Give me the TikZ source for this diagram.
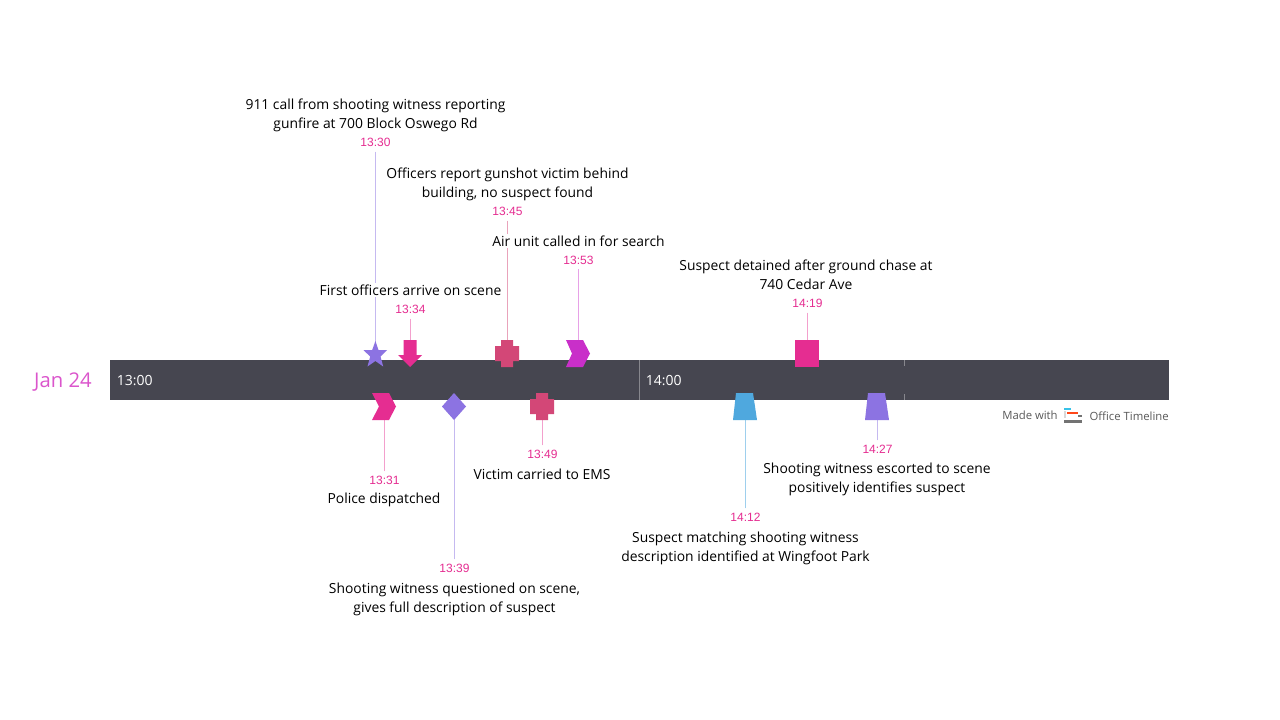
\documentclass[tikz,border=0pt]{standalone}
\usepackage{fontspec}
\setmainfont{Open Sans}
\newfontfamily\timefont{Liberation Sans}
\usetikzlibrary{backgrounds}
\definecolor{barc}{HTML}{464650}
\definecolor{pinkc}{HTML}{E52D91}
\definecolor{purpc}{HTML}{8C73E2}
\definecolor{magc}{HTML}{C92FC9}
\definecolor{rosec}{HTML}{D34777}
\definecolor{bluec}{HTML}{4FA8DE}
\definecolor{datec}{HTML}{DB55CC}
\tikzset{x=0.75pt,y=-0.75pt,
 lbl/.style={inner sep=1pt,fill=white,align=center,font=\fontsize{10.4pt}{14.25pt}\selectfont,text=black},
 tm/.style={inner sep=0pt,font=\timefont\fontsize{9pt}{10pt}\selectfont,text=pinkc},
 conn/.style={line width=0.75pt,shorten <=3.5pt},
 axis/.style={inner sep=0pt,anchor=west,text=white,font=\fontsize{10.5pt}{12pt}\selectfont},
 made/.style={inner sep=0pt,text=black!65,font=\fontsize{8.5pt}{10pt}\selectfont}}
\begin{document}
\begin{tikzpicture}
\useasboundingbox (0,0) rectangle (1280,720);
\begin{pgfonlayer}{background}
\fill[white] (0,0) rectangle (1280,720);
\end{pgfonlayer}
\fill[barc] (110,360) rectangle (1169,400);
\draw[white!35!barc,line width=0.75pt] (639.5,360) -- (639.5,400);
\draw[white!35!barc,line width=0.75pt] (904.5,360) -- (904.5,366);
\draw[white!35!barc,line width=0.75pt] (904.5,394) -- (904.5,400);
% markers
\coordinate (m1) at (375.5,354);
\coordinate (m2) at (410.5,354);
\coordinate (m3) at (507.5,354);
\coordinate (m4) at (578.5,354);
\coordinate (m5) at (807.5,354);
\coordinate (n1) at (384.5,406);
\coordinate (n2) at (454.5,406);
\coordinate (n3) at (542.5,406);
\coordinate (n4) at (745.5,406);
\coordinate (n5) at (877.5,406);
\fill[purpc] (375.4,341) -- (378.5,350) -- (387,350.2) -- (380.5,356.5) -- (383.2,366.5) -- (375.4,361) -- (367.5,366.5) -- (370.2,356.5) -- (363.5,350.2) -- (372.2,350) -- cycle;
\fill[pinkc] (403.5,340) -- (416.5,340) -- (416.5,355) -- (422,355) -- (410,367) -- (398,355) -- (403.5,355) -- cycle;
\fill[rosec] (501,340) -- (513,340) -- (513,346) -- (519,346) -- (519,361) -- (513,361) -- (513,367) -- (501,367) -- (501,361) -- (495,361) -- (495,346) -- (501,346) -- cycle;
\fill[magc] (566,340) -- (583,340) -- (590,353.5) -- (583,367) -- (566,367) -- (572,353.5) -- cycle;
\fill[pinkc] (795,340) rectangle (819,367);
\fill[pinkc] (372,393) -- (389,393) -- (396,406.5) -- (389,420) -- (372,420) -- (379,406.5) -- cycle;
\fill[purpc] (454,393) -- (466,406.5) -- (454,420) -- (442,406.5) -- cycle;
\fill[rosec] (536,393) -- (548,393) -- (548,399) -- (554,399) -- (554,414) -- (548,414) -- (548,420) -- (536,420) -- (536,414) -- (530,414) -- (530,399) -- (536,399) -- cycle;
\fill[bluec] (736,393) -- (753,393) -- (757,420) -- (733,420) -- cycle;
\fill[purpc] (868,393) -- (885,393) -- (889,420) -- (865,420) -- cycle;
% bar labels
\node[axis] (t13) at (116.5,381) {13:00};
\node[axis] (t14) at (645.5,381) {14:00};
\node[inner sep=0pt,text=datec,font=\fontsize{15.2pt}{18pt}\selectfont] (date) at (63,382.5) {Jan 24};
% labels
\node[lbl] (l1) at (375.5,115.5) {911 call from shooting witness reporting\\gunfire at 700 Block Oswego Rd};
\node[tm] (tt1) at (375.5,142.5) {13:30};
\node[lbl] (l2) at (410.5,290) {First officers arrive on scene};
\node[tm] (tt2) at (410.5,309.5) {13:34};
\node[lbl] (l3) at (507.5,184.5) {Officers report gunshot victim behind\\building, no suspect found};
\node[tm] (tt3) at (507.5,211.5) {13:45};
\node[lbl] (l4) at (578.5,241) {Air unit called in for search};
\node[tm] (tt4) at (578.5,260) {13:53};
\node[lbl] (l5) at (806,274.5) {Suspect detained after ground chase at\\740 Cedar Ave};
\node[tm] (tt5) at (807.5,303.5) {14:19};
\node[tm] (tb1) at (384.5,480.5) {13:31};
\node[lbl] (b1) at (384,500) {Police dispatched};
\node[tm] (tb2) at (454.5,568.5) {13:39};
\node[lbl] (b2) at (454.5,599.5) {Shooting witness questioned on scene,\\gives full description of suspect};
\node[tm] (tb3) at (542.5,454.5) {13:49};
\node[lbl] (b3) at (542,474) {Victim carried to EMS};
\node[tm] (tb4) at (745.5,517.5) {14:12};
\node[lbl] (b4) at (745.5,548.5) {Suspect matching shooting witness\\description identified at Wingfoot Park};
\node[tm] (tb5) at (877.5,449.5) {14:27};
\node[lbl] (b5) at (877,479) {Shooting witness escorted to scene\\positively identifies suspect};
% connectors
\begin{pgfonlayer}{background}
\draw[conn,color=purpc!50] (tt1.south) -- (m1);
\draw[conn,color=pinkc!45] (tt2.south) -- (m2);
\draw[conn,color=rosec!50] (tt3.south) -- (m3);
\draw[conn,color=magc!45] (tt4.south) -- (m4);
\draw[conn,color=pinkc!45] (tt5.south) -- (m5);
\draw[conn,color=pinkc!45] (tb1.north) -- (n1);
\draw[conn,color=purpc!50] (tb2.north) -- (n2);
\draw[conn,color=pinkc!45] (tb3.north) -- (n3);
\draw[conn,color=bluec!55] (tb4.north) -- (n4);
\draw[conn,color=purpc!50] (tb5.north) -- (n5);
\end{pgfonlayer}
% logo
\node[made,anchor=west] (mw) at (1002,415.5) {Made with};
\node[made,anchor=east] (ot) at (1169,416) {Office Timeline};
\fill[bluec!70!cyan] (1064,408) rectangle (1071,410);
\fill[red!60!orange!90] (1067,411.5) rectangle (1078,413.5);
\fill[black!15] (1064,411) rectangle (1066,418);
\fill[black!55] (1078,415) rectangle (1082,417);
\fill[black!55] (1064,419.5) rectangle (1082,422.5);
\end{tikzpicture}
\end{document}
